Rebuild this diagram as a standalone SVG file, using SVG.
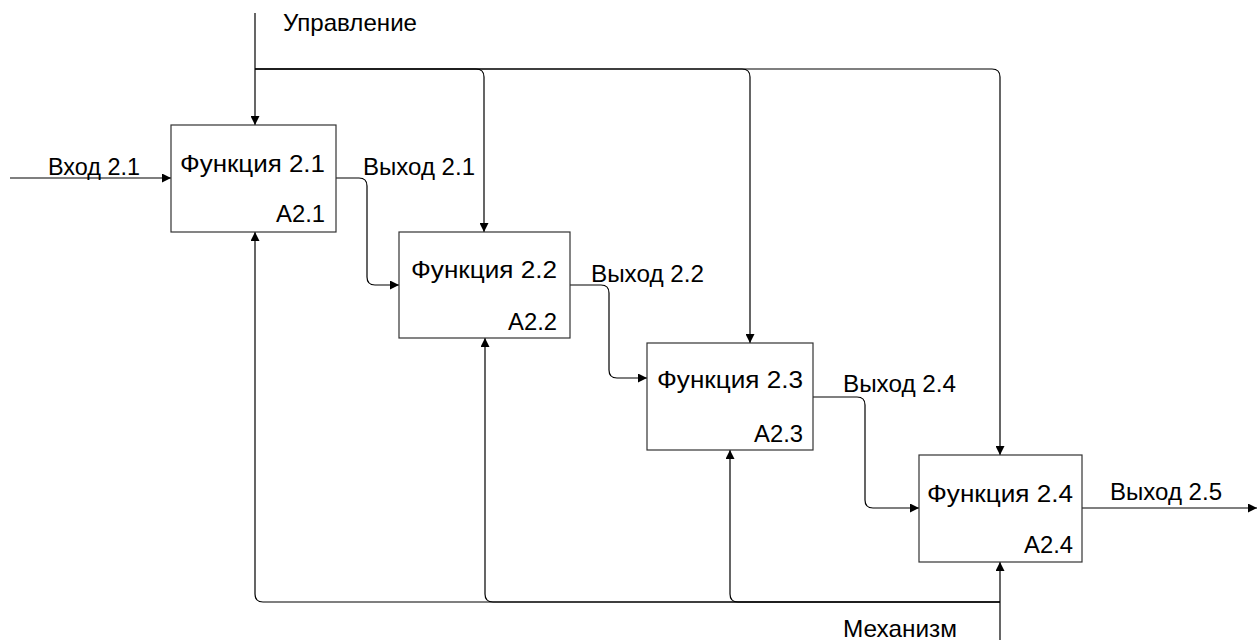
<svg xmlns="http://www.w3.org/2000/svg" width="1257" height="640" viewBox="0 0 1257 640">
<style>
.box{fill:#fff;stroke:#333;stroke-width:1.2}
.ln{fill:none;stroke:#000;stroke-width:1.2}
.t{font-family:"Liberation Sans",Arial,sans-serif;font-size:24px;fill:#000}
</style>
<defs>
<marker id="ah" viewBox="0 0 10 10" refX="10" refY="5" markerWidth="9" markerHeight="9" markerUnits="userSpaceOnUse" orient="auto">
<path d="M0,0 L10,5 L0,10 z" fill="#000"/>
</marker>
</defs>
<g id="connectors">
<path class="ln" d="M10,178 L171,178" marker-end="url(#ah)"/>
<path class="ln" d="M255,13 L255,125" marker-end="url(#ah)"/>
<path class="ln" d="M255,69 L476,69 Q484,69 484,77 L484,232" marker-end="url(#ah)"/>
<path class="ln" d="M255,69 L742,69 Q750,69 750,77 L750,343" marker-end="url(#ah)"/>
<path class="ln" d="M255,69 L992,69 Q1000,69 1000,77 L1000,455" marker-end="url(#ah)"/>
<path class="ln" d="M336,178 L359,178 Q367,178 367,186 L367,277 Q367,285 375,285 L399,285" marker-end="url(#ah)"/>
<path class="ln" d="M570,285 L601,285 Q609,285 609,293 L609,370 Q609,378 617,378 L647,378" marker-end="url(#ah)"/>
<path class="ln" d="M813,397 L857,397 Q865,397 865,405 L865,500 Q865,508 873,508 L919,508" marker-end="url(#ah)"/>
<path class="ln" d="M1082,508 L1257,508" marker-end="url(#ah)"/>
<path class="ln" d="M1000,640 L1000,562" marker-end="url(#ah)"/>
<path class="ln" d="M1000,602 L263,602 Q255,602 255,594 L255,232" marker-end="url(#ah)"/>
<path class="ln" d="M1000,602 L493,602 Q485,602 485,594 L485,338" marker-end="url(#ah)"/>
<path class="ln" d="M1000,602 L738,602 Q730,602 730,594 L730,450" marker-end="url(#ah)"/>
<text class="t" x="283" y="31" textLength="134" lengthAdjust="spacingAndGlyphs">Управление</text>
<text class="t" x="48" y="175" textLength="92" lengthAdjust="spacingAndGlyphs">Вход 2.1</text>
<text class="t" x="363" y="175" textLength="112" lengthAdjust="spacingAndGlyphs">Выход 2.1</text>
<text class="t" x="591" y="282" textLength="113" lengthAdjust="spacingAndGlyphs">Выход 2.2</text>
<text class="t" x="843" y="392" textLength="113" lengthAdjust="spacingAndGlyphs">Выход 2.4</text>
<text class="t" x="1110" y="500" textLength="112" lengthAdjust="spacingAndGlyphs">Выход 2.5</text>
<text class="t" x="843" y="637" textLength="114" lengthAdjust="spacingAndGlyphs">Механизм</text>
</g>
<g id="node1">
<rect class="box" x="171" y="125" width="165" height="107"/>
<text class="t" x="180" y="172" textLength="145" lengthAdjust="spacingAndGlyphs">Функция 2.1</text>
<text class="t" x="276" y="222" textLength="49" lengthAdjust="spacingAndGlyphs">A2.1</text>
</g>
<g id="node2">
<rect class="box" x="399" y="232" width="171" height="106"/>
<text class="t" x="411" y="278" textLength="146" lengthAdjust="spacingAndGlyphs">Функция 2.2</text>
<text class="t" x="508" y="330" textLength="49" lengthAdjust="spacingAndGlyphs">A2.2</text>
</g>
<g id="node3">
<rect class="box" x="647" y="343" width="166" height="107"/>
<text class="t" x="657" y="388" textLength="146" lengthAdjust="spacingAndGlyphs">Функция 2.3</text>
<text class="t" x="754" y="442" textLength="49" lengthAdjust="spacingAndGlyphs">A2.3</text>
</g>
<g id="node4">
<rect class="box" x="919" y="455" width="163" height="107"/>
<text class="t" x="927" y="502" textLength="146" lengthAdjust="spacingAndGlyphs">Функция 2.4</text>
<text class="t" x="1024" y="553" textLength="49" lengthAdjust="spacingAndGlyphs">A2.4</text>
</g>
</svg>
